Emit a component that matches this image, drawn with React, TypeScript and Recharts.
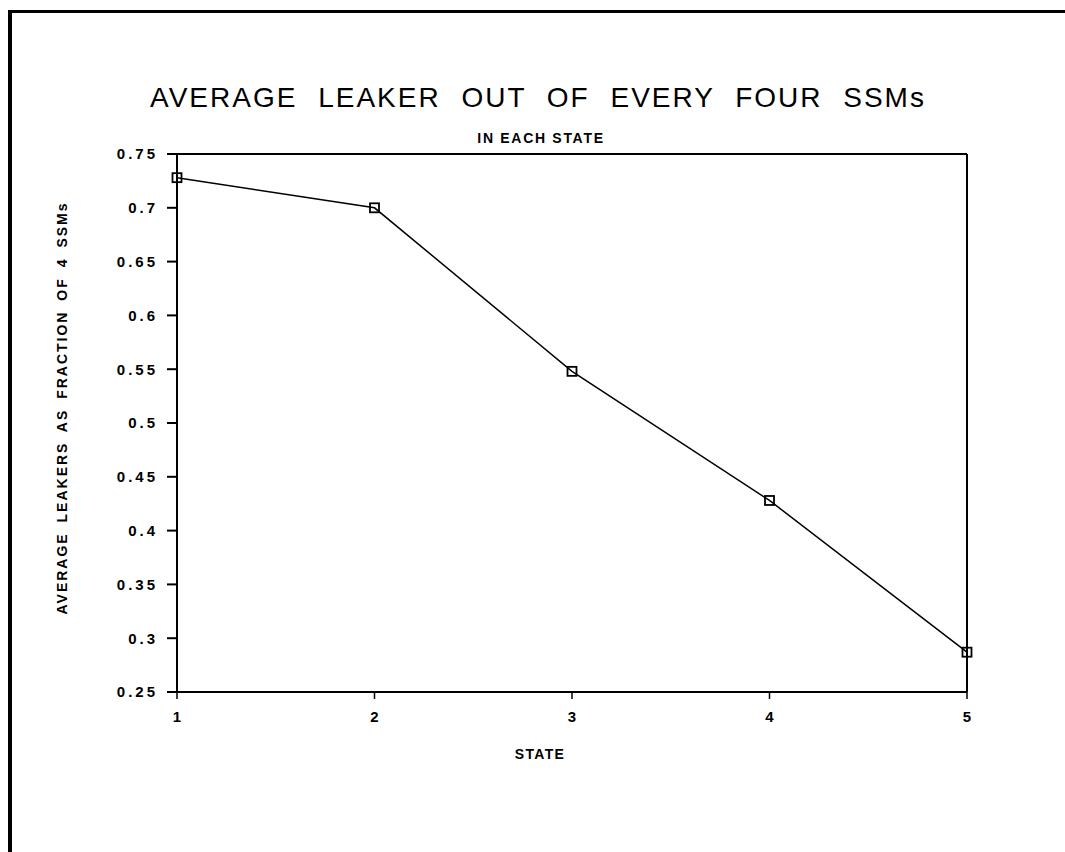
import React from "react";
import { LineChart, Line, XAxis, YAxis, ReferenceLine } from "recharts";

// ─── Data ───
const STATES = [1, 2, 3, 4, 5];
const LEAKER_FRACTION = [0.728, 0.7, 0.548, 0.428, 0.287];
const Y_TICKS = [0.25, 0.3, 0.35, 0.4, 0.45, 0.5, 0.55, 0.6, 0.65, 0.7, 0.75];
const X_TICKS = [1, 2, 3, 4, 5];

const TITLE = "AVERAGE LEAKER OUT OF EVERY FOUR SSMs";
const SUBTITLE = "IN EACH STATE";
const X_LABEL = "STATE";
const Y_LABEL = "AVERAGE LEAKERS AS FRACTION OF 4 SSMs";

const FONT = '"Liberation Sans", Arial, sans-serif';
const INK = "#000";

const data = STATES.map((s, i) => ({ state: s, value: LEAKER_FRACTION[i] }));

// hollow square marker
function SquareDot(props: any) {
  const { cx, cy, index } = props;
  if (cx == null || cy == null) return null;
  return (
    <rect
      key={`sq-${index}`}
      x={cx - 4.5}
      y={cy - 4.5}
      width={9}
      height={9}
      fill="none"
      stroke={INK}
      strokeWidth={1.8}
    />
  );
}

const tickStyle = { fill: INK, fontSize: 15, fontWeight: "bold", fontFamily: FONT, letterSpacing: 3 };

export default function App() {
  return (
    <div
      style={{
        position: "absolute",
        left: 0,
        top: 0,
        width: 1065,
        height: 852,
        background: "#fff",
        overflow: "hidden",
        fontFamily: FONT,
        color: INK,
      }}
    >
      {/* page frame */}
      <div
        style={{
          position: "absolute",
          left: 8,
          top: 10,
          width: 1100,
          height: 900,
          borderLeft: "4px solid #000",
          borderTop: "3px solid #000",
        }}
      />

      <LineChart
        width={1065}
        height={852}
        data={data}
        margin={{ top: 154, right: 98, bottom: 130, left: 117 }}
      >
        <XAxis
          type="number"
          dataKey="state"
          domain={[1, 5]}
          ticks={X_TICKS}
          height={30}
          axisLine={{ stroke: INK, strokeWidth: 2 }}
          tickLine={{ stroke: INK, strokeWidth: 1.5 }}
          tickSize={7}
          tickMargin={12}
          tick={{ ...tickStyle, letterSpacing: 0 }}
        />
        <YAxis
          type="number"
          domain={[0.25, 0.75]}
          ticks={Y_TICKS}
          width={60}
          allowDataOverflow
          axisLine={{ stroke: INK, strokeWidth: 2 }}
          tickLine={{ stroke: INK, strokeWidth: 2 }}
          tickSize={10}
          tickMargin={9}
          tick={tickStyle}
          tickFormatter={(v: number) => String(v)}
        />
        <ReferenceLine y={0.75} stroke={INK} strokeWidth={2} />
        <ReferenceLine x={5} stroke={INK} strokeWidth={2} />
        <Line
          type="linear"
          dataKey="value"
          stroke={INK}
          strokeWidth={1.5}
          dot={(p: any) => <SquareDot {...p} key={`dot-${p.index}`} />}
          activeDot={false}
          isAnimationActive={false}
        />
      </LineChart>

      {/* titles */}
      <div
        style={{
          position: "absolute",
          left: 0,
          top: 84,
          width: 1076,
          textAlign: "center",
          fontSize: 28,
          lineHeight: "28px",
          letterSpacing: 2,
          wordSpacing: 11,
          whiteSpace: "nowrap",
        }}
      >
        {TITLE}
      </div>
      <div
        style={{
          position: "absolute",
          left: 0,
          top: 131,
          width: 1082,
          textAlign: "center",
          fontSize: 14,
          lineHeight: "14px",
          fontWeight: "bold",
          letterSpacing: 1.7,
        }}
      >
        {SUBTITLE}
      </div>
      <div
        style={{
          position: "absolute",
          left: 0,
          top: 747,
          width: 1080,
          textAlign: "center",
          fontSize: 14,
          lineHeight: "14px",
          fontWeight: "bold",
          letterSpacing: 1.3,
        }}
      >
        {X_LABEL}
      </div>
      <div
        style={{
          position: "absolute",
          left: 62 - 250,
          top: 408 - 7,
          width: 500,
          height: 14,
          textAlign: "center",
          fontSize: 14,
          lineHeight: "14px",
          fontWeight: "bold",
          letterSpacing: 2,
          wordSpacing: 4,
          whiteSpace: "nowrap",
          transform: "rotate(-90deg)",
        }}
      >
        {Y_LABEL}
      </div>
    </div>
  );
}
